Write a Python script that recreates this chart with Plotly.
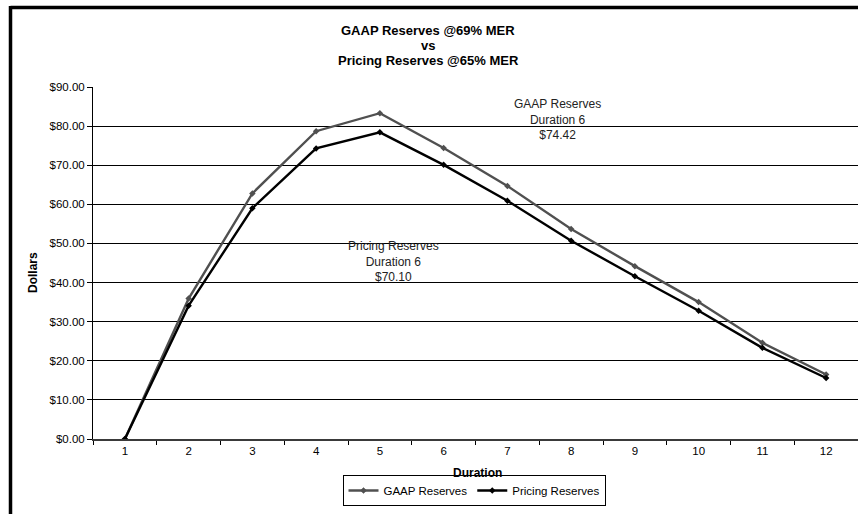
import plotly.graph_objects as go

# Reserve values by policy duration
durations = list(range(1, 13))
gaap_reserves = [0.00, 35.90, 62.80, 78.70, 83.30, 74.42, 64.70, 53.70, 44.20, 35.00, 24.60, 16.50]
pricing_reserves = [0.00, 34.10, 59.00, 74.30, 78.40, 70.10, 60.90, 50.70, 41.60, 32.80, 23.30, 15.60]
y_ticks = [0, 10, 20, 30, 40, 50, 60, 70, 80, 90]
title_lines = ["GAAP Reserves @69% MER", "vs", "Pricing Reserves @65% MER"]

W, H = 858, 514
ML, MR, MT, MB = 93, 0, 87, 75
PW, PH = W - ML - MR, H - MT - MB
FONT = "Arial, Liberation Sans, sans-serif"


def px(x):
    return (x - ML) / PW


def py(y):
    return (H - MB - y) / PH


fig = go.Figure()
fig.add_trace(go.Scatter(
    x=durations, y=gaap_reserves, name="GAAP Reserves", mode="lines+markers",
    line=dict(color="#505050", width=2.4),
    marker=dict(symbol="diamond", size=5, color="#505050"),
))
fig.add_trace(go.Scatter(
    x=durations, y=pricing_reserves, name="Pricing Reserves", mode="lines+markers",
    line=dict(color="#000000", width=2.4),
    marker=dict(symbol="diamond", size=5, color="#000000"),
))

ann = []
# chart title, one annotation per line
for line, ypix in zip(title_lines, [30, 45.5, 61]):
    ann.append(dict(
        x=px(428), y=py(ypix), xref="paper", yref="paper", showarrow=False,
        text=f"<b>{line}</b>",
        font=dict(family=FONT, size=13, color="#000"),
        xanchor="center", yanchor="middle",
    ))
# axis titles
ann.append(dict(
    x=px(33), y=py(273), xref="paper", yref="paper", showarrow=False,
    text="<b>Dollars</b>", textangle=-90,
    font=dict(family=FONT, size=12, color="#000"),
    xanchor="center", yanchor="middle",
))
ann.append(dict(
    x=px(477), y=py(473), xref="paper", yref="paper", showarrow=False,
    text="<b>Duration</b>",
    font=dict(family=FONT, size=12, color="#000"),
    xanchor="center", yanchor="middle",
))
# duration 6 value callouts
ann.append(dict(
    x=7.78, y=81.6, xref="x", yref="y", showarrow=False,
    text=f"GAAP Reserves<br>Duration 6<br>${gaap_reserves[5]:.2f}",
    font=dict(family=FONT, size=12, color="#222"), align="center",
    xanchor="center", yanchor="middle",
))
ann.append(dict(
    x=5.22, y=45.5, xref="x", yref="y", showarrow=False,
    text=f"Pricing Reserves<br>Duration 6<br>${pricing_reserves[5]:.2f}",
    font=dict(family=FONT, size=12, color="#222"), align="center",
    xanchor="center", yanchor="middle",
))

# outer frame (top and left edges)
shapes = [
    dict(type="line", xref="paper", yref="paper",
         x0=px(10.5), x1=px(W + 20), y0=py(7.5), y1=py(7.5),
         line=dict(color="#000", width=3.5)),
    dict(type="line", xref="paper", yref="paper",
         x0=px(10.5), x1=px(10.5), y0=py(6), y1=py(H + 20),
         line=dict(color="#000", width=3.5)),
]

fig.update_layout(
    width=W, height=H,
    margin=dict(l=ML, r=MR, t=MT, b=MB, autoexpand=False),
    paper_bgcolor="white", plot_bgcolor="white",
    font=dict(family=FONT, size=11, color="#000"),
    showlegend=True,
    legend=dict(
        orientation="h", x=px(474), y=py(490.5), xanchor="center", yanchor="middle",
        bordercolor="#000", borderwidth=1, bgcolor="white",
        font=dict(family=FONT, size=11.5, color="#000"),
        itemwidth=30, tracegroupgap=0, itemsizing="trace",
    ),
    annotations=ann,
    shapes=shapes,
    xaxis=dict(
        range=[0.5, 12.5], tickvals=durations, ticktext=[str(d) for d in durations],
        ticks="", showgrid=False, zeroline=False,
        showline=True, linecolor="#3a3a3a", linewidth=2,
        tickfont=dict(family=FONT, size=11.5, color="#000"),
        minor=dict(tick0=0.5, dtick=1, ticks="outside", ticklen=4,
                   tickcolor="#000", tickwidth=1, showgrid=False),
    ),
    yaxis=dict(
        range=[0, 90], tickvals=y_ticks, ticktext=[f"${v:.2f}" for v in y_ticks],
        ticks="outside", ticklen=5, tickcolor="#000",
        showgrid=True, gridcolor="#000", gridwidth=1, zeroline=False,
        showline=True, linecolor="#000", linewidth=1,
        tickfont=dict(family=FONT, size=11.5, color="#000"),
    ),
)

fig.write_html("out.html")
